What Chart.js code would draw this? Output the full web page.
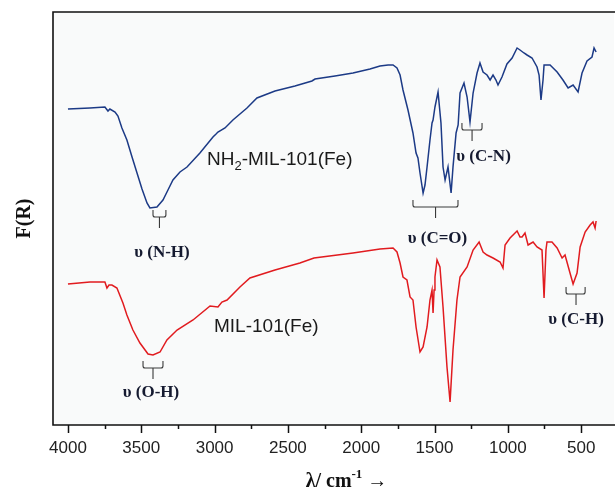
<!DOCTYPE html>
<html>
<head>
<meta charset="utf-8">
<script src="https://cdn.jsdelivr.net/npm/chart.js@4.4.1/dist/chart.umd.min.js"></script>
<style>
  html, body { margin: 0; padding: 0; background: #ffffff; }
  #wrap { width: 615px; height: 490px; position: relative; }
</style>
</head>
<body>
<div id="wrap"><canvas id="c" width="615" height="490"></canvas></div>
<script>
// ---- data (wavenumber in cm^-1, F(R) in arbitrary units) ----
const wavenumbersNH2 = [4000,3850,3748,3727,3714,3679,3659,3632,3598,3563,3529,3495,3461,3441,3393,3352,3318,3284,3236,3188,3100,3011,2990,2977,2929,2875,2779,2711,2588,2452,2336,2315,2179,2056,1940,1872,1817,1783,1756,1735,1715,1681,1647,1626,1613,1599,1578,1565,1551,1531,1517,1510,1497,1476,1456,1442,1428,1408,1387,1374,1353,1339,1326,1299,1278,1258,1237,1210,1190,1169,1142,1121,1101,1081,1067,1040,1006,971,937,917,890,869,835,801,787,774,760,753,712,664,624,589,555,521,494,460,426,412,398];
const valuesNH2 = [316,317,318,314,316,313,309,297,285,268,252,236,222,217,218,225,235,245,253,258,272,288,291,293,297,305,317,327,334,339,344,346,349,352,356,359,360,360,357,350,335,315,292,272,267,252,232,240,258,285,302,305,318,333,302,258,245,258,232,258,292,300,332,342,328,303,332,352,362,353,350,345,350,345,340,348,361,367,377,375,372,370,367,358,350,325,345,360,360,353,345,337,340,333,352,364,368,377,373];

const wavenumbersMIL = [4000,3850,3748,3734,3720,3700,3666,3625,3598,3557,3509,3454,3420,3372,3325,3256,3147,3031,2977,2950,2915,2827,2759,2588,2418,2322,2056,1872,1783,1756,1735,1715,1688,1667,1647,1626,1599,1578,1551,1531,1517,1510,1503,1497,1483,1463,1442,1415,1394,1374,1347,1326,1278,1237,1196,1169,1142,1101,1053,1033,1019,985,937,917,903,883,862,828,801,767,753,740,733,699,664,630,610,576,555,528,507,473,439,419,405,398];
const valuesMIL = [141,143,143,137,140,140,137,122,110,95,82,71,70,73,85,95,105,119,118,123,125,138,147,155,162,167,172,176,177,173,162,148,145,128,125,98,73,78,98,125,135,112,135,148,165,158,118,58,23,75,125,148,158,175,183,173,170,167,163,157,180,187,194,188,188,192,180,183,178,175,127,175,183,183,177,167,170,152,141,152,178,193,200,203,197,204];

const seriesNames = ['NH\u2082-MIL-101(Fe)', 'MIL-101(Fe)'];
const majorTicks = [4000,3500,3000,2500,2000,1500,1000,500];
const minorTicks = [3750,3250,2750,2250,1750,1250,750];

// band assignments: label, bracket span (cm^-1), bracket centre
const bandLabels = ['\u03c5 (N-H)', '\u03c5 (O-H)', '\u03c5 (C=O)', '\u03c5 (C-N)', '\u03c5 (C-H)'];
const bandFrom   = [3420, 3488, 1647, 1313, 603];
const bandTo     = [3332, 3352, 1340, 1176, 473];
const bandCentre = [3376, 3420, 1493, 1244, 535];
const bandLevel  = [215, 64, 225, 302, 138];   // F(R) level of bracket top
const labelAt    = [3359, 3434, 1480, 1166, 535];
const labelLevel = [172, 32, 186, 268, 105];

const seriesLabelAt = [3052, 3004];
const seriesLabelLevel = [265, 98];

// ---- chart ----
const pts = (xs, ys) => xs.map((x, i) => ({x: x, y: ys[i]}));

const decor = {
  id: 'decor',
  beforeDraw(chart) {
    const {ctx, chartArea: a} = chart;
    ctx.save();
    ctx.fillStyle = '#f9fafa';
    ctx.fillRect(a.left, a.top, a.right - a.left, a.bottom - a.top);
    ctx.restore();
  },
  afterDraw(chart) {
    const {ctx, chartArea: a, scales: {x, y}} = chart;
    ctx.save();
    // frame
    ctx.strokeStyle = '#111';
    ctx.lineWidth = 1.6;
    ctx.beginPath();
    ctx.moveTo(a.right + 2, a.top);
    ctx.lineTo(a.left, a.top);
    ctx.lineTo(a.left, a.bottom);
    ctx.lineTo(a.right + 2, a.bottom);
    ctx.stroke();
    // ticks
    ctx.lineWidth = 1.5;
    ctx.beginPath();
    majorTicks.forEach(v => { const px = Math.round(x.getPixelForValue(v)) + 0.5; ctx.moveTo(px, a.bottom); ctx.lineTo(px, a.bottom + 8); });
    minorTicks.forEach(v => { const px = Math.round(x.getPixelForValue(v)) + 0.5; ctx.moveTo(px, a.bottom); ctx.lineTo(px, a.bottom + 4); });
    ctx.stroke();

    // brackets
    ctx.strokeStyle = '#3a3a3a';
    ctx.lineWidth = 1.1;
    bandLabels.forEach((t, i) => {
      const x1 = x.getPixelForValue(bandFrom[i]);
      const x2 = x.getPixelForValue(bandTo[i]);
      const xc = x.getPixelForValue(bandCentre[i]);
      const yt = y.getPixelForValue(bandLevel[i]);
      const yb = yt + 7;
      const ys = yb + 11;
      ctx.beginPath();
      ctx.moveTo(x1, yt);
      ctx.lineTo(x1, yb - 2);
      ctx.quadraticCurveTo(x1, yb, x1 + 2, yb);
      ctx.lineTo(x2 - 2, yb);
      ctx.quadraticCurveTo(x2, yb, x2, yb - 2);
      ctx.lineTo(x2, yt);
      ctx.moveTo(xc, yb);
      ctx.lineTo(xc, ys);
      ctx.stroke();
    });

    // band labels
    ctx.fillStyle = '#151a30';
    ctx.font = 'bold 17px "Liberation Serif", "Times New Roman", serif';
    ctx.textAlign = 'center';
    ctx.textBaseline = 'middle';
    bandLabels.forEach((t, i) => {
      ctx.fillText(t, x.getPixelForValue(labelAt[i]), y.getPixelForValue(labelLevel[i]));
    });

    // series labels (with subscript)
    ctx.fillStyle = '#1a1a1a';
    ctx.textAlign = 'left';
    ctx.textBaseline = 'middle';
    const big = '19px "Liberation Sans", Arial, sans-serif';
    const small = '13px "Liberation Sans", Arial, sans-serif';
    {
      let px = x.getPixelForValue(seriesLabelAt[0]);
      const py = y.getPixelForValue(seriesLabelLevel[0]);
      ctx.font = big; ctx.fillText('NH', px, py); px += ctx.measureText('NH').width;
      ctx.font = small; ctx.fillText('2', px, py + 6); px += ctx.measureText('2').width;
      ctx.font = big; ctx.fillText('-MIL-101(Fe)', px, py);
    }
    {
      const px = x.getPixelForValue(seriesLabelAt[1]);
      const py = y.getPixelForValue(seriesLabelLevel[1]);
      ctx.font = big; ctx.fillText(seriesNames[1], px, py);
    }

    // x-axis title with superscript
    ctx.fillStyle = '#111';
    ctx.textBaseline = 'alphabetic';
    const tf = 'bold 20px "Liberation Serif", "Times New Roman", serif';
    const sf = 'bold 13px "Liberation Serif", "Times New Roman", serif';
    const parts = [['\u03bb/ cm', tf, 0], ['-1', sf, -9], [' \u2192', tf, 0]];
    let w = 0;
    parts.forEach(p => { ctx.font = p[1]; w += ctx.measureText(p[0]).width; });
    let tx = (a.left + a.right) / 2 - 1 - w / 2 + 14;
    const ty = 487;
    parts.forEach(p => { ctx.font = p[1]; ctx.fillText(p[0], tx, ty + p[2]); tx += ctx.measureText(p[0]).width; });
    ctx.restore();
  }
};

new Chart(document.getElementById('c'), {
  type: 'line',
  data: {
    datasets: [
      { label: seriesNames[0], data: pts(wavenumbersNH2, valuesNH2), borderColor: '#1c3a86', borderWidth: 1.5, pointRadius: 0, tension: 0, fill: false },
      { label: seriesNames[1], data: pts(wavenumbersMIL, valuesMIL), borderColor: '#e11b1f', borderWidth: 1.5, pointRadius: 0, tension: 0, fill: false }
    ]
  },
  options: {
    responsive: false,
    animation: false,
    devicePixelRatio: 1,
    layout: { padding: { left: 0, top: 12, right: 1, bottom: 0 } },
    plugins: { legend: { display: false }, tooltip: { enabled: false } },
    scales: {
      x: {
        type: 'linear',
        reverse: true,
        min: 276,
        max: 4102,
        afterBuildTicks: s => { s.ticks = majorTicks.map(v => ({value: v})); },
        afterFit: s => { s.height = 65; },
        grid: { display: false, drawTicks: false },
        border: { display: false },
        ticks: { padding: 13, color: '#222', callback: v => String(v), font: { family: '"Liberation Sans", Arial, sans-serif', size: 17 }, maxRotation: 0, autoSkip: false }
      },
      y: {
        type: 'linear',
        min: 0,
        max: 413,
        afterFit: s => { s.width = 53; },
        grid: { display: false, drawTicks: false },
        border: { display: false },
        ticks: { display: false },
        title: { display: true, text: 'F(R)', color: '#111', padding: { top: 13, bottom: 0 }, font: { family: '"Liberation Serif", "Times New Roman", serif', size: 20, weight: 'bold' } }
      }
    }
  },
  plugins: [decor]
});
</script>
</body>
</html>
